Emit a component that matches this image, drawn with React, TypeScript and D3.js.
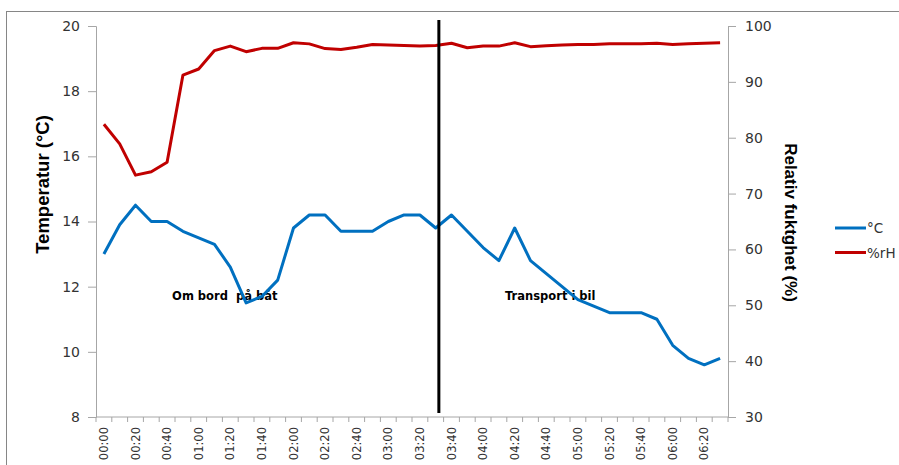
import React, { useEffect, useRef } from 'react'
import * as d3 from 'd3'

// 10-minute readings, 00:00 - 06:30
const times = d3.range(40).map((i) => {
  const m = i * 10
  return `${String(Math.floor(m / 60)).padStart(2, '0')}:${String(m % 60).padStart(2, '0')}`
})

const temperature = [
  13.0, 13.9, 14.5, 14.0, 14.0, 13.7, 13.5, 13.3, 12.6, 11.5,
  11.7, 12.2, 13.8, 14.2, 14.2, 13.7, 13.7, 13.7, 14.0, 14.2,
  14.2, 13.8, 14.2, 13.7, 13.2, 12.8, 13.8, 12.8, 12.4, 12.0,
  11.6, 11.4, 11.2, 11.2, 11.2, 11.0, 10.2, 9.8, 9.6, 9.8,
]

const humidity = [
  82.4, 78.9, 73.3, 73.9, 75.6, 91.2, 92.3, 95.6, 96.4, 95.4,
  96.0, 96.0, 97.0, 96.8, 95.95, 95.8, 96.2, 96.7, 96.6, 96.5,
  96.4, 96.5, 96.9, 96.1, 96.4, 96.4, 97.0, 96.3, 96.45, 96.6,
  96.7, 96.7, 96.8, 96.8, 96.8, 96.9, 96.7, 96.8, 96.9, 97.0,
]

const tempTicks = [8, 10, 12, 14, 16, 18, 20]
const rhTicks = [30, 40, 50, 60, 70, 80, 90, 100]

// marker between boat and car transport (category index)
const splitAt = 21.7

const notes = [
  { label: 'Om bord  på båt', at: 8.15, temp: 11.6 },
  { label: 'Transport i bil', at: 28.75, temp: 11.6 },
]

const series = [
  { name: '°C', color: '#0070C0' },
  { name: '%rH', color: '#C00000' },
]

const App = () => {
  const svgRef = useRef<SVGSVGElement>(null)

  useEffect(() => {
    const svg = d3.select(svgRef.current)
    svg.selectAll('*').remove()

    const W = 899
    const H = 465
    const left = 96
    const right = 728
    const top = 26
    const bottom = 417
    const axisColor = '#a6a6a6'
    const tickFont = 'DejaVu Sans, Verdana, sans-serif'
    const titleFont = 'Liberation Sans Narrow, Liberation Sans, Arial, sans-serif'

    svg.attr('width', W).attr('height', H)

    // chart frame
    svg
      .append('rect')
      .attr('x', 6.5)
      .attr('y', 11.5)
      .attr('width', W)
      .attr('height', H)
      .attr('fill', 'white')
      .attr('stroke', '#868686')

    const x = d3.scaleBand().domain(times).range([left, right]).padding(0)
    const xi = d3.scaleLinear().domain([0, times.length]).range([left, right])
    const yT = d3.scaleLinear().domain([8, 20]).range([bottom, top])
    const yH = d3.scaleLinear().domain([30, 100]).range([bottom, top])

    const cx = (d: string) => (x(d) as number) + x.bandwidth() / 2

    // x axis
    const xAxis = svg.append('g').attr('transform', `translate(0,${bottom})`)
    xAxis
      .append('line')
      .attr('x1', left)
      .attr('x2', right)
      .attr('stroke', axisColor)
    xAxis
      .selectAll('line.tick')
      .data(d3.range(times.length + 1))
      .enter()
      .append('line')
      .attr('class', 'tick')
      .attr('x1', (d) => xi(d))
      .attr('x2', (d) => xi(d))
      .attr('y1', 0)
      .attr('y2', 5)
      .attr('stroke', axisColor)
    xAxis
      .selectAll('text')
      .data(times.filter((_, i) => i % 2 === 0))
      .enter()
      .append('text')
      .attr('transform', (d) => `translate(${cx(d) + 4},10) rotate(-90)`)
      .attr('text-anchor', 'end')
      .attr('font-family', tickFont)
      .attr('font-size', 11.5)
      .attr('fill', '#333')
      .text((d) => d)

    // left axis
    const yAxisL = d3.axisLeft(yT).tickValues(tempTicks).tickSize(8).tickPadding(8)
    const gL = svg.append('g').attr('transform', `translate(${left},0)`).call(yAxisL)
    gL.select('.domain').attr('stroke', axisColor)
    gL.selectAll('.tick line').attr('stroke', axisColor)
    gL.selectAll('.tick text')
      .attr('font-family', tickFont)
      .attr('font-size', 14)
      .attr('fill', '#333')

    // right axis
    const yAxisR = d3.axisRight(yH).tickValues(rhTicks).tickSize(8).tickPadding(9)
    const gR = svg.append('g').attr('transform', `translate(${right},0)`).call(yAxisR)
    gR.select('.domain').attr('stroke', axisColor)
    gR.selectAll('.tick line').attr('stroke', axisColor)
    gR.selectAll('.tick text')
      .attr('font-family', tickFont)
      .attr('font-size', 14)
      .attr('fill', '#333')

    // axis titles
    svg
      .append('text')
      .attr('transform', `translate(49,${(top + bottom) / 2 - 37}) rotate(-90)`)
      .attr('text-anchor', 'middle')
      .attr('font-family', titleFont)
      .attr('font-weight', 'bold')
      .attr('font-size', 18.5)
      .text('Temperatur (°C)')

    svg
      .append('text')
      .attr('transform', `translate(785,${(top + bottom) / 2 + 1}) rotate(90)`)
      .attr('text-anchor', 'middle')
      .attr('font-family', titleFont)
      .attr('font-weight', 'bold')
      .attr('font-size', 17)
      .text('Relativ fuktghet (%)')

    // annotations (under the lines)
    svg
      .selectAll('text.note')
      .data(notes)
      .enter()
      .append('text')
      .attr('class', 'note')
      .attr('x', (d) => xi(d.at))
      .attr('y', (d) => yT(d.temp))
      .attr('text-anchor', 'middle')
      .attr('font-family', tickFont)
      .attr('font-weight', 'bold')
      .attr('font-size', 11.5)
      .style('white-space', 'pre')
      .text((d) => d.label)

    // lines
    const lineT = d3
      .line<number>()
      .x((_, i) => cx(times[i]))
      .y((d) => yT(d))
    const lineH = d3
      .line<number>()
      .x((_, i) => cx(times[i]))
      .y((d) => yH(d))

    svg
      .append('path')
      .datum(humidity)
      .attr('d', lineH)
      .attr('fill', 'none')
      .attr('stroke', series[1].color)
      .attr('stroke-width', 3)
      .attr('stroke-linejoin', 'round')

    svg
      .append('path')
      .datum(temperature)
      .attr('d', lineT)
      .attr('fill', 'none')
      .attr('stroke', series[0].color)
      .attr('stroke-width', 3)
      .attr('stroke-linejoin', 'round')

    // split marker
    svg
      .append('line')
      .attr('x1', xi(splitAt))
      .attr('x2', xi(splitAt))
      .attr('y1', top - 6)
      .attr('y2', bottom - 4)
      .attr('stroke', '#000')
      .attr('stroke-width', 3)

    // legend
    const lg = svg
      .selectAll('g.legend')
      .data(series)
      .enter()
      .append('g')
      .attr('class', 'legend')
      .attr('transform', (_, i) => `translate(835,${228 + i * 24.5})`)
    lg.append('line')
      .attr('x1', 0)
      .attr('x2', 31)
      .attr('stroke', (d) => d.color)
      .attr('stroke-width', 3)
    lg.append('text')
      .attr('x', 32)
      .attr('y', 5)
      .attr('font-family', tickFont)
      .attr('font-size', 13.5)
      .attr('fill', '#333')
      .text((d) => d.name)
  }, [])

  return (
    <svg
      ref={svgRef}
      style={{ position: 'absolute', left: 0, top: 0 }}
    ></svg>
  )
}

export default App
